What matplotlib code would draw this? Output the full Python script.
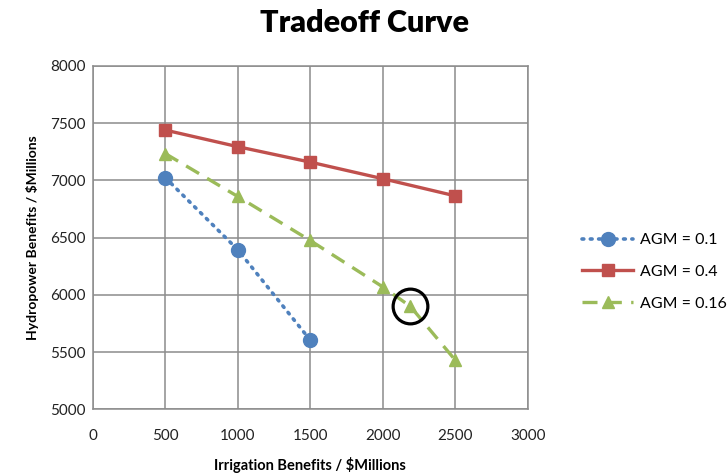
import matplotlib
matplotlib.use("Agg")
import matplotlib.pyplot as plt

# values
x_blue = [500, 1000, 1500]
y_blue = [7025, 6395, 5605]

x_red = [500, 1000, 1500, 2000, 2500]
y_red = [7440, 7295, 7160, 7015, 6865]

x_green = [500, 1000, 1500, 2000, 2190, 2500]
y_green = [7235, 6860, 6475, 6070, 5900, 5430]

highlight = 4  # circled point on the AGM = 0.16 curve

x_ticks = [0, 500, 1000, 1500, 2000, 2500, 3000]
y_ticks = [5000, 5500, 6000, 6500, 7000, 7500, 8000]

plt.rcParams['font.family'] = ['Lato', 'DejaVu Sans']

fig = plt.figure(figsize=(7.28, 4.73), dpi=100)
ax = fig.add_axes([0.1273, 0.1347, 0.5976, 0.7258])

ax.plot(x_blue, y_blue, color='#4F81BD', linestyle=(0, (0.5, 1.8)), linewidth=2.6,
        marker='o', markersize=10, label='AGM = 0.1', dash_capstyle='round')
ax.plot(x_red, y_red, color='#C0504D', linestyle='-', linewidth=2.4,
        marker='s', markersize=8.5, label='AGM = 0.4')
ax.plot(x_green, y_green, color='#9BBB59', linestyle=(0, (4.5, 2.8)), linewidth=2.4,
        marker='^', markersize=9, label='AGM = 0.16')

ax.plot(x_green[highlight], y_green[highlight], marker='o', markersize=25,
        markerfacecolor='none', markeredgecolor='black', markeredgewidth=2.3)

ax.set_xlim(0, 3000)
ax.set_ylim(5000, 8000)
ax.set_xticks(x_ticks)
ax.set_yticks(y_ticks)
ax.tick_params(length=0, labelsize=11, labelcolor='#222222')
ax.tick_params(axis='x', pad=14)
ax.tick_params(axis='y', pad=5)
ax.grid(True, color='#8c8c8c', linewidth=1.1)
ax.set_axisbelow(True)
for s in ax.spines.values():
    s.set_color('#8c8c8c')
    s.set_linewidth(1.1)

ax.set_xlabel('Irrigation Benefits / $Millions', fontsize=10.5, fontweight='bold', labelpad=10)
ax.set_ylabel('Hydropower Benefits / $Millions', fontsize=10, fontweight='bold', labelpad=8)
fig.text(0.5, 0.952, 'Tradeoff Curve', ha='center', va='center', fontsize=22, fontweight='heavy')

fig.legend(loc='center left', bbox_to_anchor=(0.78, 0.425), frameon=False,
           fontsize=11.5, handlelength=3.2, labelspacing=1.1, handletextpad=0.4)

fig.savefig('out.png', dpi=100)
